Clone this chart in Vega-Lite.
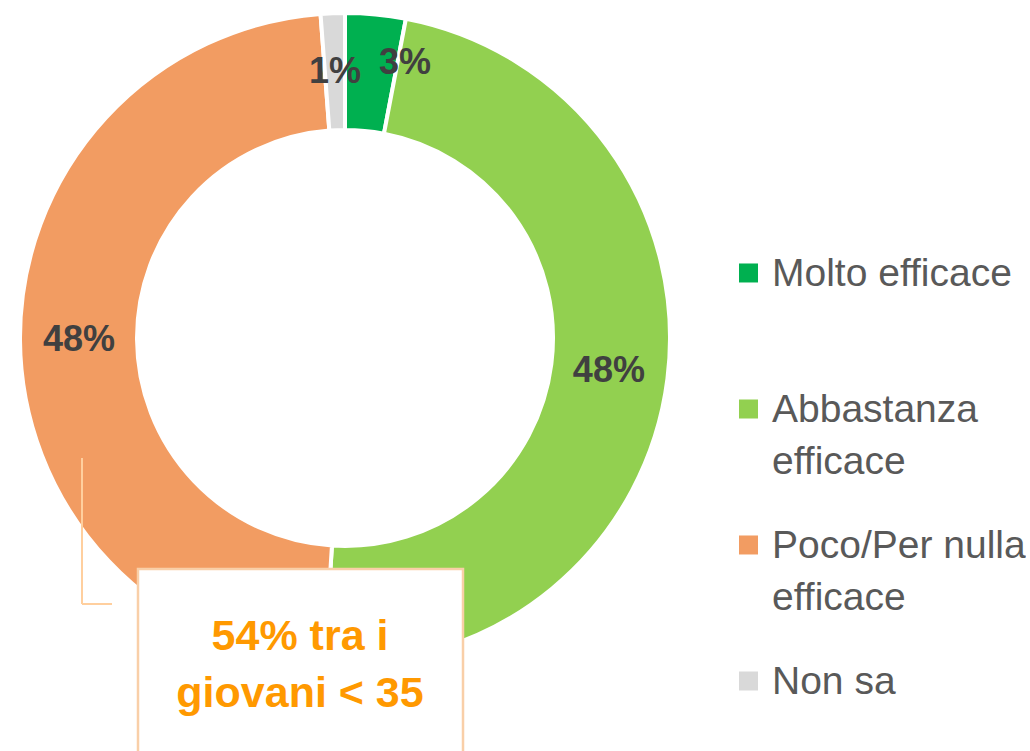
{
  "$schema": "https://vega.github.io/schema/vega-lite/v6.json",
  "width": 690,
  "height": 676,
  "padding": 0,
  "autosize": {"type": "pad"},
  "background": "white",
  "config": {
    "view": {"stroke": null},
    "style": {"guide-label": {"lineHeight": 52}}
  },
  "data": {
    "values": [
      {"categoria": "Molto efficace", "valore": 3.0, "ord": 1, "etichetta": "3%"},
      {"categoria": "Abbastanza efficace", "valore": 48.0, "ord": 2, "etichetta": "48%"},
      {"categoria": "Poco/Per nulla efficace", "valore": 47.8, "ord": 3, "etichetta": "48%"},
      {"categoria": "Non sa", "valore": 1.2, "ord": 4, "etichetta": "1%"}
    ]
  },
  "layer": [
    {
      "mark": {"type": "arc", "radius": 325, "radius2": 208, "stroke": "white", "strokeWidth": 4},
      "encoding": {
        "theta": {"field": "valore", "type": "quantitative", "stack": true},
        "order": {"field": "ord", "type": "quantitative"},
        "color": {
          "field": "categoria",
          "type": "nominal",
          "scale": {
            "domain": ["Molto efficace", "Abbastanza efficace", "Poco/Per nulla efficace", "Non sa"],
            "range": ["#00B050", "#92D050", "#F29C62", "#D9D9D9"]
          },
          "legend": {
            "orient": "none",
            "legendX": 729,
            "legendY": 218,
            "title": null,
            "padding": 0,
            "symbolType": "M-1,-2.37H1V-0.37H-1Z",
            "symbolSize": 361,
            "symbolStrokeWidth": 0,
            "symbolOpacity": 1,
            "labelFont": "Liberation Sans",
            "labelFontSize": 39,
            "labelColor": "#595959",
            "labelLimit": 400,
            "labelOffset": 4,
            "labelBaseline": "alphabetic",
            "clipHeight": 136,
            "rowPadding": 0,
            "labelExpr": "datum.label == 'Abbastanza efficace' ? ['Abbastanza', 'efficace'] : datum.label == 'Poco/Per nulla efficace' ? ['Poco/Per nulla', 'efficace'] : datum.label"
          }
        }
      }
    },
    {
      "mark": {"type": "text", "radius": 266, "fontSize": 36, "fontWeight": "bold", "font": "Liberation Sans", "fill": "#404040", "align": "center", "baseline": "middle"},
      "encoding": {
        "theta": {"field": "valore", "type": "quantitative", "stack": true},
        "order": {"field": "ord", "type": "quantitative"},
        "text": {"condition": {"test": "datum.ord == 1", "value": ""}, "field": "etichetta"}
      }
    },
    {
      "mark": {"type": "text", "radius": 266, "dx": 35, "dy": -10, "fontSize": 36, "fontWeight": "bold", "font": "Liberation Sans", "fill": "#404040", "align": "center", "baseline": "middle"},
      "encoding": {
        "theta": {"field": "valore", "type": "quantitative", "stack": true},
        "order": {"field": "ord", "type": "quantitative"},
        "text": {"condition": {"test": "datum.ord != 1", "value": ""}, "field": "etichetta"}
      }
    },
    {
      "data": {"values": [{"annotazione": "connettore"}]},
      "mark": {"type": "rule", "stroke": "#FFCF9E", "strokeWidth": 2},
      "encoding": {
        "x": {"datum": 82, "type": "quantitative", "scale": {"domain": [0, 690], "nice": false, "zero": false}, "axis": null},
        "y": {"datum": 458, "type": "quantitative", "scale": {"domain": [0, 676], "nice": false, "zero": false, "reverse": true}, "axis": null},
        "y2": {"datum": 604}
      }
    },
    {
      "data": {"values": [{"annotazione": "connettore"}]},
      "mark": {"type": "rule", "stroke": "#FFCF9E", "strokeWidth": 2},
      "encoding": {
        "x": {"datum": 82, "type": "quantitative", "scale": {"domain": [0, 690], "nice": false, "zero": false}, "axis": null},
        "x2": {"datum": 112},
        "y": {"datum": 604, "type": "quantitative", "scale": {"domain": [0, 676], "nice": false, "zero": false, "reverse": true}, "axis": null}
      }
    },
    {
      "data": {"values": [{"annotazione": "box"}]},
      "mark": {"type": "rect", "fill": "white", "stroke": "#F9CFA8", "strokeWidth": 2.5},
      "encoding": {
        "x": {"datum": 138, "type": "quantitative", "scale": {"domain": [0, 690], "nice": false, "zero": false}, "axis": null},
        "x2": {"datum": 463},
        "y": {"datum": 569, "type": "quantitative", "scale": {"domain": [0, 676], "nice": false, "zero": false, "reverse": true}, "axis": null},
        "y2": {"datum": 790}
      }
    },
    {
      "data": {"values": [{"annotazione": "box"}]},
      "mark": {"type": "text", "fontSize": 43, "fontWeight": "bold", "font": "Liberation Sans", "fill": "#FF9900", "align": "center", "baseline": "alphabetic", "lineHeight": 57},
      "encoding": {
        "x": {"datum": 300, "type": "quantitative", "scale": {"domain": [0, 690], "nice": false, "zero": false}, "axis": null},
        "y": {"datum": 650, "type": "quantitative", "scale": {"domain": [0, 676], "nice": false, "zero": false, "reverse": true}, "axis": null},
        "text": {"value": ["54% tra i", "giovani < 35"]}
      }
    }
  ]
}
